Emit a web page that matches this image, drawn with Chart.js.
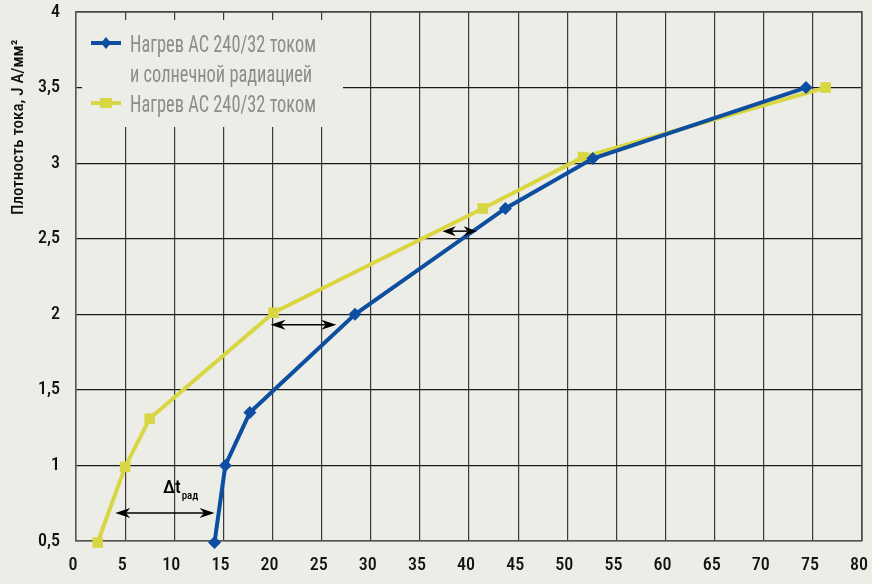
<!DOCTYPE html>
<html lang="ru">
<head>
<meta charset="utf-8">
<script src="https://cdn.jsdelivr.net/npm/chart.js@4/dist/chart.umd.min.js"></script>
<style>
  html, body { margin: 0; padding: 0; background: #ECEDE7; }
  #wrap { width: 872px; height: 584px; }
</style>
</head>
<body>
<div id="wrap"><canvas id="c" width="872" height="584"></canvas></div>
<script>
// Heating of AC 240/32 conductor: current only vs current + solar radiation
const seriesLabels = [
  ['Нагрев АС 240/32 током', 'и солнечной радиацией'],
  ['Нагрев АС 240/32 током']
];
// temperature, °C
const solarX = [14.1, 15.2, 17.7, 28.4, 43.7, 52.6, 74.3];
// current density, A/mm²
const solarY = [0.49, 1.0, 1.35, 2.0, 2.7, 3.03, 3.5];
const currentX = [2.2, 5.0, 7.5, 20.1, 41.4, 51.6, 76.3];
const currentY = [0.49, 0.99, 1.31, 2.01, 2.7, 3.04, 3.5];

const xTickLabels = ['0','5','10','15','20','25','30','35','40','45','50','55','60','65','70','75','80'];
const yTickLabels = ['0,5','1','1,5','2','2,5','3','3,5','4'];
const yTitle = 'Плотность тока, J А/мм²';

// double-headed arrows showing the temperature gap between curves
const arrowFromX = [4.0, 19.8, 37.3];
const arrowToX = [14.1, 26.5, 40.8];
const arrowAtY = [0.685, 1.93, 2.55];
const gapLabel = { main: 'Δt', sub: 'рад', x: 8.85, y: 0.818 };

const BLUE = '#0D4EA0';
const YELLOW = '#D9D643';
const BG = '#ECEDE7';
const FONT = "'Roboto Condensed', 'DejaVu Sans Condensed', 'Liberation Sans Narrow', Roboto, sans-serif";

const toPoints = (xs, ys) => xs.map((x, i) => ({ x, y: ys[i] }));

// text squeezed horizontally to a given width (condensed look)
function fillCondensed(ctx, text, x, y, targetW, refText) {
  const w = ctx.measureText(refText || text).width;
  const k = Math.min(1, targetW / w);
  ctx.save();
  ctx.translate(x, y);
  ctx.scale(k, 1);
  ctx.fillText(text, 0, 0);
  ctx.restore();
}

const arrowsPlugin = {
  id: 'gapArrows',
  afterDatasetsDraw(chart) {
    const { ctx, scales: { x, y } } = chart;
    ctx.save();
    ctx.fillStyle = '#000';
    ctx.strokeStyle = '#000';
    ctx.lineWidth = 1.5;
    const head = (tipX, py, dir, len) => {
      ctx.beginPath();
      ctx.moveTo(tipX, py);
      ctx.lineTo(tipX + dir * len, py - 5);
      ctx.lineTo(tipX + dir * len * 0.7, py);
      ctx.lineTo(tipX + dir * len, py + 5);
      ctx.closePath();
      ctx.fill();
    };
    arrowFromX.forEach((fx, i) => {
      const x1 = x.getPixelForValue(fx);
      const x2 = x.getPixelForValue(arrowToX[i]);
      const py = y.getPixelForValue(arrowAtY[i]);
      const len = Math.min(15, (x2 - x1) / 2.6);
      ctx.beginPath();
      ctx.moveTo(x1 + len * 0.7, py);
      ctx.lineTo(x2 - len * 0.7, py);
      ctx.stroke();
      head(x1, py, 1, len);
      head(x2, py, -1, len);
    });
    // Δt_рад label
    const lx = x.getPixelForValue(gapLabel.x);
    const ly = y.getPixelForValue(gapLabel.y);
    ctx.textBaseline = 'alphabetic';
    ctx.textAlign = 'left';
    ctx.font = '500 19px ' + FONT;
    ctx.fillText(gapLabel.main, lx, ly);
    const w = ctx.measureText(gapLabel.main).width;
    ctx.font = '500 11px ' + FONT;
    ctx.fillText(gapLabel.sub, lx + w + 1, ly + 6);
    ctx.restore();
  }
};

const legendPlugin = {
  id: 'boxLegend',
  afterDatasetsDraw(chart) {
    const { ctx } = chart;
    ctx.save();
    // legend panel covers the grid underneath
    ctx.fillStyle = BG;
    ctx.fillRect(82, 20, 261, 107);
    ctx.font = '23px ' + FONT;
    ctx.textBaseline = 'alphabetic';
    ctx.textAlign = 'left';
    let baseline = 52;
    chart.data.datasets.forEach(ds => {
      const lines = ds.label;
      const markY = baseline - 9;
      ctx.strokeStyle = ds.borderColor;
      ctx.lineWidth = 4;
      ctx.beginPath();
      ctx.moveTo(91, markY);
      ctx.lineTo(121, markY);
      ctx.stroke();
      ctx.fillStyle = ds.borderColor;
      ctx.beginPath();
      if (ds.pointStyle === 'rectRot') {
        ctx.moveTo(106, markY - 6);
        ctx.lineTo(111, markY);
        ctx.lineTo(106, markY + 6);
        ctx.lineTo(101, markY);
      } else {
        ctx.rect(100, markY - 5, 12, 10);
      }
      ctx.closePath();
      ctx.fill();
      ctx.fillStyle = '#8C8C8C';
      lines.forEach((t, k) => {
        fillCondensed(ctx, t, 130, baseline + k * 30, 186, seriesLabels[1][0]);
      });
      baseline += lines.length * 30;
    });
    ctx.restore();
  }
};

const titlePlugin = {
  id: 'yTitle',
  afterDraw(chart) {
    const { ctx } = chart;
    ctx.save();
    ctx.font = '500 17px ' + FONT;
    ctx.fillStyle = '#111';
    ctx.textBaseline = 'middle';
    ctx.textAlign = 'left';
    ctx.translate(19, 215);
    ctx.rotate(-Math.PI / 2);
    fillCondensed(ctx, yTitle, 0, 0, 200);
    ctx.restore();
  }
};

const noAutoPad = s => {
  s.paddingTop = 0; s.paddingBottom = 0; s.paddingLeft = 0; s.paddingRight = 0;
};

new Chart(document.getElementById('c'), {
  type: 'line',
  data: {
    datasets: [
      {
        label: seriesLabels[0],
        data: toPoints(solarX, solarY),
        borderColor: BLUE,
        backgroundColor: BLUE,
        borderWidth: 4,
        pointStyle: 'rectRot',
        pointRadius: 6.5,
        pointBorderWidth: 0,
        tension: 0
      },
      {
        label: seriesLabels[1],
        data: toPoints(currentX, currentY),
        borderColor: YELLOW,
        backgroundColor: YELLOW,
        borderWidth: 4,
        pointStyle: 'rect',
        pointRadius: 7.5,
        pointBorderWidth: 0,
        tension: 0
      }
    ]
  },
  options: {
    responsive: false,
    animation: false,
    clip: false,
    layout: { padding: { top: 12, right: 10, left: 0, bottom: 0 } },
    plugins: {
      legend: { display: false },
      tooltip: { enabled: false }
    },
    scales: {
      x: {
        type: 'linear',
        min: 0, max: 80,
        afterFit: s => { s.height = 43; noAutoPad(s); },
        border: { display: true, color: '#555', width: 1.5 },
        grid: { color: '#3a3a3a', lineWidth: 1.2, drawTicks: false },
        ticks: {
          stepSize: 5,
          padding: 14,
          color: '#111',
          labelOffset: -3,
          font: { family: FONT, size: 18, weight: '500' },
          callback: (v) => xTickLabels[Math.round(v / 5)]
        }
      },
      y: {
        type: 'linear',
        min: 0.5, max: 4,
        afterFit: s => { s.width = 76; noAutoPad(s); },
        border: { display: true, color: '#555', width: 1.5 },
        grid: { color: '#1a1a1a', lineWidth: 1.2, drawTicks: false },
        ticks: {
          stepSize: 0.5,
          padding: 16,
          color: '#111',
          font: { family: FONT, size: 18, weight: '500' },
          callback: (v) => yTickLabels[Math.round((v - 0.5) / 0.5)]
        }
      }
    }
  },
  plugins: [
    {
      id: 'frame',
      afterDraw(chart) {
        const { ctx, chartArea: a } = chart;
        ctx.save();
        ctx.strokeStyle = '#555';
        ctx.lineWidth = 1.5;
        ctx.beginPath();
        ctx.moveTo(a.left, a.top);
        ctx.lineTo(a.right, a.top);
        ctx.lineTo(a.right, a.bottom);
        ctx.stroke();
        ctx.restore();
      }
    },
    legendPlugin,
    arrowsPlugin,
    titlePlugin
  ]
});
</script>
</body>
</html>
